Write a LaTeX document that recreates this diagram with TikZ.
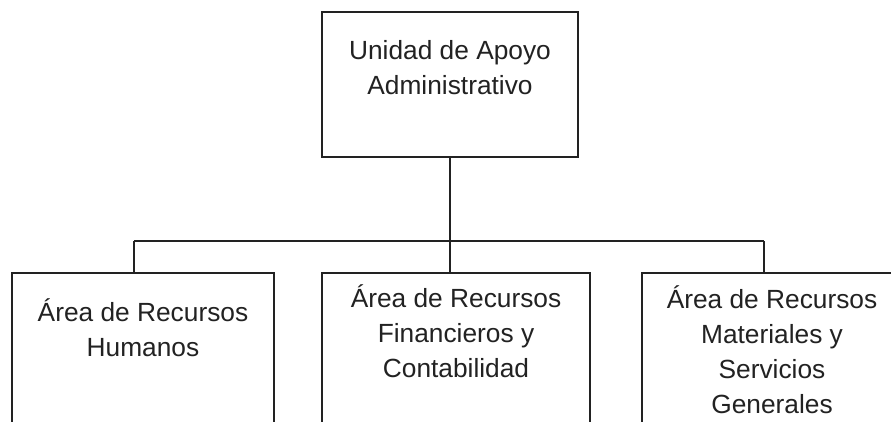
\documentclass[tikz,border=0pt]{standalone}
\usepackage{fontspec}
\setmainfont{Liberation Sans}
\definecolor{ink}{HTML}{222222}
\begin{document}
\begin{tikzpicture}[x=1pt,y=-1pt,
  box/.style={draw=ink,line width=2.4pt,rectangle,inner sep=0pt},
  txt/.style={text=ink,align=center,inner sep=0pt,anchor=base,font=\fontsize{26.3}{35}\selectfont},
  link/.style={draw=ink,line width=2.4pt}]
\useasboundingbox (0,0) rectangle (891,422);
\clip (0,0) rectangle (891,422);
\fill[white] (0,0) rectangle (891,422);
% boxes
\node[box,minimum width=256pt,minimum height=145pt] (top) at (450,84.5) {};
\node[box,minimum width=262pt,minimum height=180pt] (left) at (143,363) {};
\node[box,minimum width=268pt,minimum height=180pt] (mid) at (456,363) {};
\node[box,minimum width=260pt,minimum height=180pt] (right) at (772,363) {};
% texts (anchor = baseline of the last line)
\node[txt] (ttop) at (450,95) {Unidad de Apoyo\\Administrativo};
\node[txt] (tleft) at (143,356) {Área de Recursos\\Humanos};
\node[txt] (tmid) at (456,377) {Área de Recursos\\Financieros y\\Contabilidad};
\node[txt] (tright) at (772,413) {Área de Recursos\\Materiales y\\Servicios\\Generales};
% connectors
\coordinate (j) at (450,241);
\coordinate (hl) at (134,241);
\coordinate (hr) at (764,241);
\draw[link] (top.south) -- (j);
\draw[link] (hl) -- (hr);
\draw[link] (hl) -- (hl |- left.north);
\draw[link] (j) -- (j |- mid.north);
\draw[link] (hr) -- (hr |- right.north);
\end{tikzpicture}
\end{document}
